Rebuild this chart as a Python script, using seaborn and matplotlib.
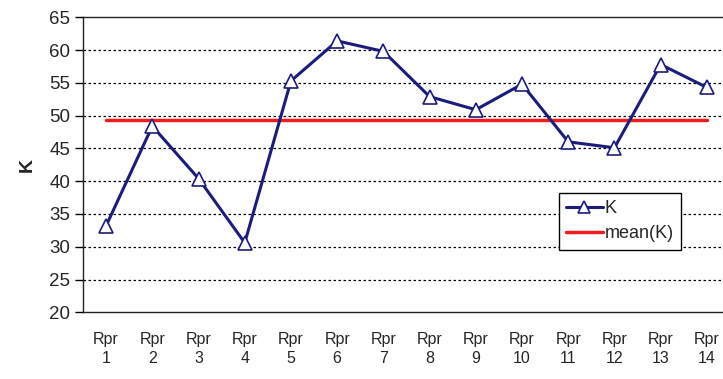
import numpy as np
import pandas as pd
import matplotlib
matplotlib.use("Agg")
import matplotlib.pyplot as plt
import seaborn as sns

# Data
runs = ["Rpr\n1", "Rpr\n2", "Rpr\n3", "Rpr\n4", "Rpr\n5", "Rpr\n6", "Rpr\n7",
        "Rpr\n8", "Rpr\n9", "Rpr\n10", "Rpr\n11", "Rpr\n12", "Rpr\n13", "Rpr\n14"]
k_values = [33.2, 48.4, 40.4, 30.6, 55.3, 61.4, 59.8,
            52.9, 50.9, 54.8, 46.0, 45.1, 57.8, 54.3]
y_ticks = [20, 25, 30, 35, 40, 45, 50, 55, 60, 65]

mean_k = np.mean(k_values)
df = pd.DataFrame({"run": runs, "K": k_values, "mean": [mean_k] * len(runs)})

sns.set_style("white")
plt.rcParams["font.family"] = ["Liberation Sans", "DejaVu Sans"]

fig = plt.figure(figsize=(7.23, 3.79), dpi=100)
ax = fig.add_axes([83 / 723, 1 - 312.3 / 379, 647 / 723, 295 / 379])

sns.lineplot(data=df, x="run", y="K", ax=ax, color="#1c1c7c", linewidth=2.2,
             marker="^", markersize=10, markerfacecolor="white",
             markeredgecolor="#1c1c7c", markeredgewidth=1.2, label="K", sort=False)
sns.lineplot(data=df, x="run", y="mean", ax=ax, color="#ee1c1c", linewidth=2.5,
             label="mean(K)", sort=False, zorder=1)

n = len(runs)
ax.set_xlim(-0.5, n - 0.5)
ax.set_ylim(y_ticks[0], y_ticks[-1])
ax.set_yticks(y_ticks)
ax.set_xticks(range(n))
ax.set_xticklabels(runs, fontsize=11.5, linespacing=1.35)
ax.set_xticks(np.arange(-0.5, n, 1.0), minor=True)
ax.tick_params(axis="x", which="major", length=0, pad=14)
ax.tick_params(axis="x", which="minor", length=5, width=1, color="black", direction="out")
ax.tick_params(axis="y", length=6, width=1, color="black", direction="out",
               labelsize=13.5, pad=3, left=True)

# dashed horizontal gridlines (skip the frame lines)
for v in y_ticks[1:-1]:
    ax.axhline(v, color="black", linestyle=(0, (2, 2)), linewidth=0.9, zorder=0)

for side in ["left", "bottom", "top"]:
    ax.spines[side].set_visible(True)
    ax.spines[side].set_color("#222222")
    ax.spines[side].set_linewidth(1.0)
ax.spines["right"].set_visible(False)

ax.set_xlabel("")
ax.set_ylabel("K", fontsize=14, fontweight="bold", labelpad=10)

leg = ax.legend(loc="upper left", bbox_to_anchor=(0.736, 0.404), fontsize=13,
                frameon=True, fancybox=False, edgecolor="black", framealpha=1,
                handlelength=2.0, handletextpad=0.1, borderpad=0.4,
                labelspacing=0.45, borderaxespad=0, markerscale=0.8)
leg.get_frame().set_linewidth(1.0)

fig.savefig("out.png", dpi=100, facecolor="white")
